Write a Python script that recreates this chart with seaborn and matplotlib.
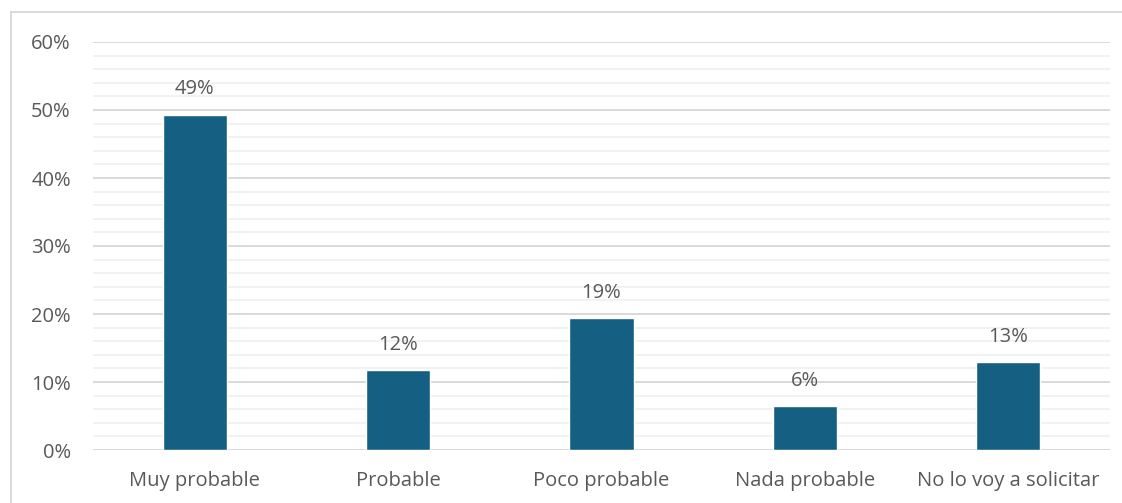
import matplotlib
matplotlib.use("Agg")
import matplotlib.pyplot as plt
from matplotlib.lines import Line2D
from matplotlib.ticker import MultipleLocator, PercentFormatter
import seaborn as sns
import pandas as pd

categories = ["Muy probable", "Probable", "Poco probable", "Nada probable", "No lo voy a solicitar"]
shares = [0.493, 0.117, 0.194, 0.064, 0.129]

sns.set_theme(style="white")
plt.rcParams["font.family"] = ["Open Sans", "DejaVu Sans"]

W, H = 1122, 503
fig = plt.figure(figsize=(W / 100, H / 100), dpi=100)
fig.patch.set_facecolor("white")
fig.patch.set_linewidth(0)
ax = fig.add_axes([93 / W, 1 - 450 / H, (1110 - 93) / W, (450 - 42) / H])

df = pd.DataFrame({"cat": categories, "share": shares})
sns.barplot(data=df, x="cat", y="share", color="#156082", saturation=1,
            width=0.315, ax=ax, zorder=3)

text_color = "#595959"
fs = 14.5
ax.set_ylim(0, 0.6)
ax.yaxis.set_major_locator(MultipleLocator(0.1))
ax.yaxis.set_minor_locator(MultipleLocator(0.02))
ax.yaxis.set_major_formatter(PercentFormatter(1.0, decimals=0))
ax.grid(axis="y", which="major", color="#d9d9d9", linewidth=1.4, zorder=0)
ax.grid(axis="y", which="minor", color="#f2f2f2", linewidth=1.4, zorder=0)
ax.set_axisbelow(True)
for s in ax.spines.values():
    s.set_visible(False)
ax.tick_params(axis="both", which="both", length=0, labelsize=fs,
               labelcolor=text_color)
ax.tick_params(axis="y", pad=16)
ax.tick_params(axis="x", pad=15)
ax.set_xlabel("")
ax.set_ylabel("")

for i, v in enumerate(shares):
    ax.annotate(f"{round(v * 100):.0f}%", (i, v), xytext=(0, 11),
                textcoords="offset points", ha="center", va="bottom",
                fontsize=fs, color=text_color)

# chart frame: left and top edges
fig.add_artist(Line2D([11 / W, 11 / W], [1 - 12 / H, -0.01], transform=fig.transFigure,
                      color="#d9d9d9", linewidth=1.4))
fig.add_artist(Line2D([11 / W, 1.01], [1 - 12 / H, 1 - 12 / H], transform=fig.transFigure,
                      color="#d9d9d9", linewidth=1.4))

fig.savefig("out.png", dpi=100)
